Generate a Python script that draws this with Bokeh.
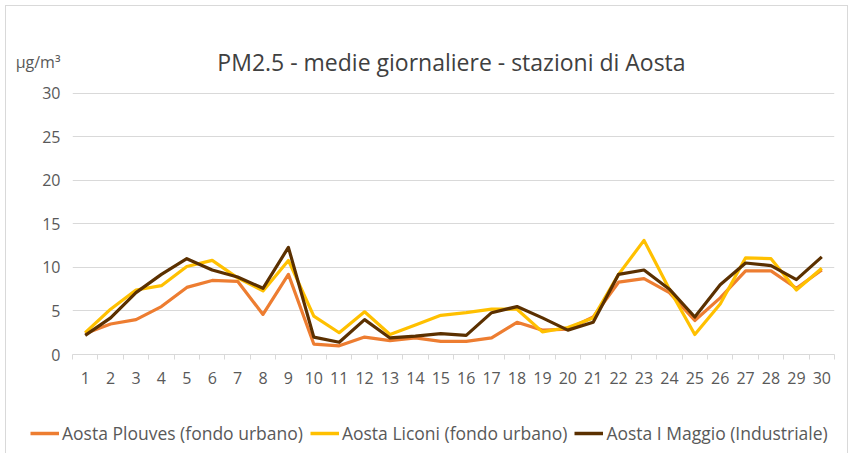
from bokeh.plotting import figure
from bokeh.layouts import column, row
from bokeh.models import FixedTicker, Label, Legend, LegendItem
from bokeh.embed import file_html
from bokeh.resources import INLINE

days = list(range(1, 31))
plouves = [2.4, 3.5, 4.0, 5.5, 7.7, 8.5, 8.4, 4.6, 9.2, 1.2, 1.0, 2.0, 1.6, 1.9, 1.5, 1.5, 1.9, 3.7, 2.8, 2.9,
           4.3, 8.3, 8.7, 7.1, 3.9, 6.5, 9.6, 9.6, 7.6, 9.7]
liconi = [2.5, 5.2, 7.4, 7.9, 10.1, 10.8, 8.8, 7.3, 10.8, 4.4, 2.5, 4.9, 2.3, 3.4, 4.5, 4.8, 5.2, 5.2, 2.6, 3.1,
          4.2, 9.2, 13.1, 7.5, 2.3, 5.8, 11.1, 11.0, 7.4, 9.9]
maggio = [2.2, 4.2, 7.1, 9.2, 11.0, 9.7, 8.9, 7.6, 12.3, 2.0, 1.4, 4.0, 1.9, 2.1, 2.4, 2.2, 4.8, 5.5, 4.2, 2.8,
          3.7, 9.2, 9.7, 7.5, 4.3, 8.0, 10.5, 10.2, 8.6, 11.2]
y_ticks = [0, 5, 10, 15, 20, 25, 30]
unit_label = "µg/m³"
title_text = "PM2.5 - medie giornaliere - stazioni di Aosta"
series_names = ["Aosta Plouves (fondo urbano)", "Aosta Liconi (fondo urbano)", "Aosta I Maggio (Industriale)"]
colors = ["#ED7D31", "#FFC000", "#5B3000"]
series = [plouves, liconi, maggio]

FONT = "Open Sans"
GRAY = "#595959"
TITLE_Y = 33.6

# ---- main chart ----
p = figure(width=841, height=394, x_range=(0.5, 30.5), y_range=(0, 36.5),
           output_backend="svg", toolbar_location=None,
           min_border_left=66, min_border_right=13, min_border_top=30, min_border_bottom=46)
p.outline_line_color = None
p.background_fill_color = "white"
p.border_fill_color = "white"

for vals, c in zip(series, colors):
    p.line(days, vals, line_color=c, line_width=3.2, line_join="round")

p.xaxis.ticker = FixedTicker(ticks=days, minor_ticks=[d + 0.5 for d in range(0, 31)])
p.xaxis.major_tick_line_color = None
p.xaxis.major_tick_out = 0
p.xaxis.major_tick_in = 0
p.xaxis.minor_tick_line_color = "#d9d9d9"
p.xaxis.minor_tick_in = 0
p.xaxis.minor_tick_out = 5
p.xaxis.axis_line_color = "#d9d9d9"
p.xaxis.major_label_text_font = FONT
p.xaxis.major_label_text_font_size = "16px"
p.xaxis.major_label_text_color = GRAY
p.xaxis.major_label_standoff = 12

p.yaxis.ticker = FixedTicker(ticks=y_ticks + [TITLE_Y])
p.yaxis.major_label_overrides = {TITLE_Y: unit_label}
p.yaxis.axis_line_color = None
p.yaxis.major_tick_line_color = None
p.yaxis.major_tick_out = 0
p.yaxis.minor_tick_line_color = None
p.yaxis.major_label_text_font = FONT
p.yaxis.major_label_text_font_size = "16px"
p.yaxis.major_label_text_color = GRAY
p.yaxis.major_label_standoff = 12

p.xgrid.grid_line_color = None
p.ygrid.ticker = FixedTicker(ticks=y_ticks)
p.ygrid.grid_line_color = "#d9d9d9"
p.ygrid.grid_line_width = 1

p.add_layout(Label(x=15.42, y=TITLE_Y, text=title_text,
                   text_font=FONT, text_font_size="23px", text_color="#404040",
                   text_align="center", text_baseline="middle"))

# ---- legend strip ----
q = figure(width=841, height=53, x_range=(0.5, 30.5), y_range=(100, 101),
           x_axis_type=None, y_axis_type=None,
           output_backend="svg", toolbar_location=None,
           min_border_left=0, min_border_right=0, min_border_top=0, min_border_bottom=0)
q.outline_line_color = None
q.grid.grid_line_color = None
renderers = [q.line(days, vals, line_color=c, line_width=3.5) for vals, c in zip(series, colors)]

legend = Legend(items=[LegendItem(label=n, renderers=[r]) for n, r in zip(series_names, renderers)],
                orientation="horizontal", location=(24, 8))
legend.label_text_font = FONT
legend.label_text_font_size = "17.5px"
legend.label_text_color = GRAY
legend.border_line_color = None
legend.background_fill_alpha = 0
legend.glyph_width = 29
legend.spacing = 7
legend.label_standoff = 3
legend.margin = 0
legend.padding = 0
q.add_layout(legend, "center")

layout = column(p, row(q), spacing=0, margin=(5, 4, 0, 5),
                styles={"border-top": "1px solid #d9d9d9", "border-left": "1px solid #d9d9d9",
                        "border-right": "1px solid #d9d9d9"})

open("out.html", "w").write(file_html(layout, INLINE))
